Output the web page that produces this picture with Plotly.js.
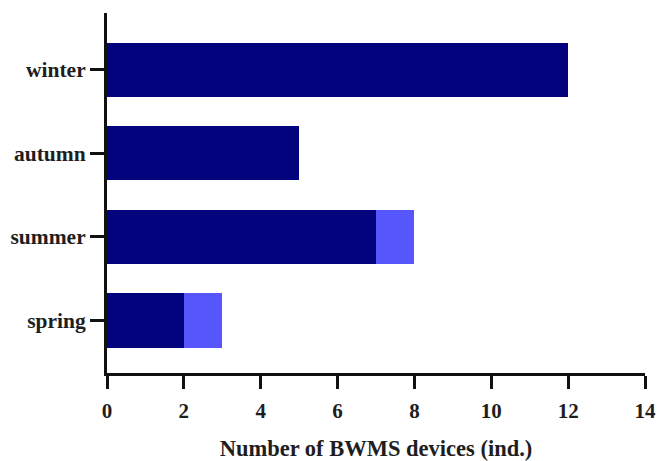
<!DOCTYPE html>
<html>
<head>
<meta charset="utf-8">
<script src="https://cdn.plot.ly/plotly-3.0.1.min.js"></script>
<style>html,body{margin:0;padding:0;background:#fff}#chart{width:659px;height:461px}</style>
</head>
<body>
<div id="chart"></div>
<script>
// Seasons, bottom to top
const seasons = ["spring", "summer", "autumn", "winter"];
// Device counts per season, split in two stacked groups
const groupA = [2, 7, 5, 12];
const groupB = [1, 1, 0, 0];
const xTicks = [0, 2, 4, 6, 8, 10, 12, 14];

const serif = "Liberation Serif, Times New Roman, serif";
const ink = "#1e1e1e";

const traces = [
  {type: "bar", orientation: "h", y: seasons, x: groupA, marker: {color: "#03037e"}, hoverinfo: "x+y"},
  {type: "bar", orientation: "h", y: seasons, x: groupB, marker: {color: "#5656fb"}, hoverinfo: "x+y"}
];

const layout = {
  width: 659, height: 461,
  margin: {l: 107, r: 14, t: 13, b: 88},
  barmode: "stack",
  bargap: 0.35,
  showlegend: false,
  paper_bgcolor: "#fff", plot_bgcolor: "#fff",
  xaxis: {
    range: [0, 14], tickvals: xTicks, ticktext: xTicks.map(String),
    showline: true, linecolor: "#111", linewidth: 3,
    ticks: "outside", ticklen: 13, tickwidth: 3, tickcolor: "#111",
    showgrid: false, zeroline: false,
    tickfont: {family: serif, size: 21, color: ink, weight: "bold"}, ticklabelstandoff: 4,
    title: {text: "Number of BWMS devices (ind.)", font: {family: serif, size: 22.5, color: ink, weight: "bold"}, standoff: 21}
  },
  yaxis: {
    type: "category", range: [-0.63, 3.68],
    showline: true, linecolor: "#111", linewidth: 3,
    ticks: "outside", ticklen: 14, tickwidth: 3, tickcolor: "#111",
    showgrid: false, zeroline: false,
    tickfont: {family: serif, size: 21.5, color: ink, weight: "bold"}, ticklabelstandoff: 0
  }
};

Plotly.newPlot("chart", traces, layout, {displayModeBar: false, staticPlot: true});
</script>
</body>
</html>
